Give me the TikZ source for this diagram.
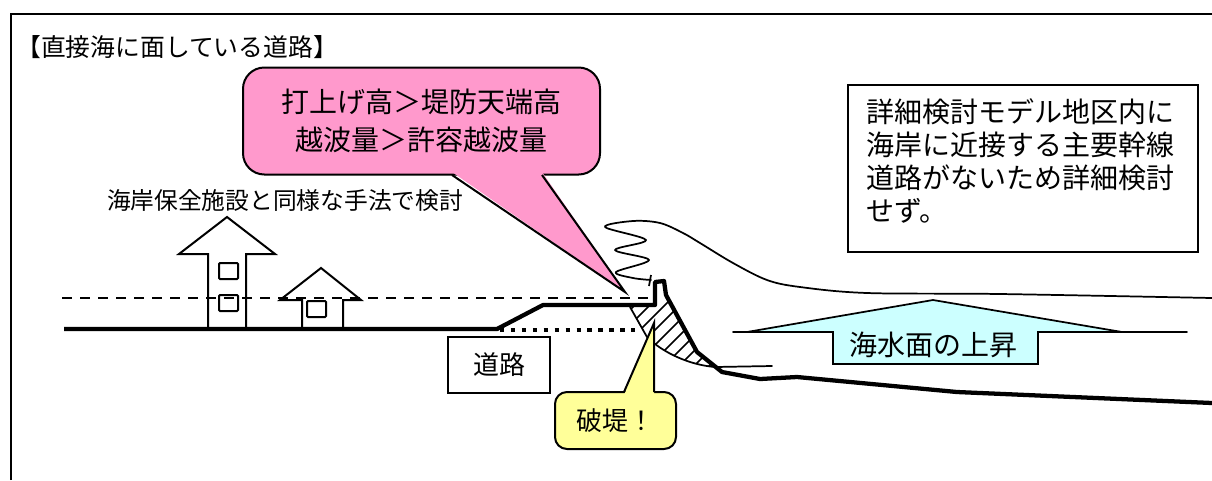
\documentclass[tikz,border=0pt]{standalone}
\usepackage{fontspec}
\setmainfont{Noto Sans CJK JP}
\definecolor{calloutpink}{RGB}{255,153,204}
\definecolor{calloutyellow}{RGB}{255,255,153}
\definecolor{risecyan}{RGB}{204,255,255}
\begin{document}
\begin{tikzpicture}[x=0.75pt,y=-0.75pt,
  frame/.style={line width=1.5pt},
  thinline/.style={line width=1.3pt, line join=round, line cap=round},
  ground/.style={line width=3.2pt, line join=round},
  house/.style={draw, fill=white, line width=1.5pt, line join=miter},
  window/.style={draw, line width=1.5pt, rounded corners=0.8pt},
  levelline/.style={line width=1.5pt, dash pattern=on 7.5pt off 6pt},
  oldroad/.style={line width=3.2pt, dash pattern=on 3.2pt off 5pt},
  hatchline/.style={line width=1.1pt},
  boxed/.style={draw, line width=1.5pt, fill=white, inner sep=0pt},
  pinkbox/.style={draw, line width=1.5pt, fill=calloutpink, rounded corners=16pt, inner sep=0pt},
  yellowbox/.style={draw, line width=1.5pt, fill=calloutyellow, rounded corners=9pt, inner sep=0pt},
  big/.style={font=\fontsize{21pt}{28.5pt}\selectfont},
  mid/.style={font=\fontsize{19.5pt}{24pt}\selectfont},
  small/.style={font=\fontsize{17.8pt}{20pt}\selectfont},
  heading/.style={font=\fontsize{18.6pt}{22pt}\selectfont},
]
\useasboundingbox (0,0) rectangle (1212,480);

% outer frame (runs off the right and bottom edges)
\draw[frame] (11,480) -- (11,14) -- (1212,14);

% title
\node[heading, anchor=west, inner sep=0pt] (title) at (16,47) {【直接海に面している道路】};

% houses behind the embankment
\draw[house] (208,328) -- (208,254) -- (179,254) -- (227,217) -- (275,254) -- (246,254) -- (246,328);
\draw[window] (219,263) rectangle (238,279);
\draw[window] (219,295) rectangle (238,311);
\draw[house] (302,328) -- (302,300) -- (280,300) -- (321,268) -- (361,300) -- (343,300) -- (343,328);
\draw[window] (307,301) rectangle (326,317);

% crest height of the seawall
\draw[levelline] (62,298) -- (652,298);

% hatched seawall body
\begin{scope}
  \clip (630,307) -- (656,305) -- (665,297) -- (697,352) -- (715,367)
        .. controls (690,364) and (663,353) .. (647,337) -- cycle;
  \foreach \k in {0,...,12} \draw[hatchline] (540+\k*15,400) -- ++(130,-130);
\end{scope}
\draw[thinline] (630,307) -- (647,337) .. controls (663,353) and (690,365) .. (715,367) -- (772,366);

% ground, raised road and seabed
\draw[ground] (64,329) -- (497,329) -- (543,305) -- (655,305) -- (655,282) -- (664,281)
  -- (666,295) -- (697,352) -- (722,372) -- (760,379) -- (797,377) -- (957,392) -- (1212,403);
\draw[oldroad] (500,330) -- (640,330);

% wave overtopping the wall
\draw[thinline] plot[smooth, tension=0.55] coordinates {(651,280) (633,278) (616,272) (649,260)
  (615,250) (646,240) (605,227) (633,221) (660,223) (683,233) (700,243) (733,263)
  (767,280) (800,287) (867,293) (1000,294) (1212,298)};
\draw[line width=1.3pt] (651,275) -- (649,286);

% sea level and its rise
\draw[thinline] (733,332) -- (1187,332);
\draw[line width=1.3pt, fill=risecyan, line join=miter] (747,332) -- (933,300) -- (1122,332) -- (1038,332)
  -- (1038,364) -- (833,364) -- (833,332) -- cycle;
\node[big, inner sep=0pt] (rise) at (933,345) {海水面の上昇};

% callout: run-up and overtopping
\coordinate (overtop) at (625,292);
\node[pinkbox, big, align=center, minimum width=267.75pt, minimum height=80.25pt] (warn) at (421.5,121) {打上げ高＞堤防天端高\\越波量＞許容越波量};
\fill[calloutpink] (452,172) -- (overtop) -- (542,172) -- cycle;
\draw[line width=1.5pt, line join=miter] (452,175) -- (overtop) -- (542,175);

% method note
\node[small, inner sep=0pt] (method) at (285,201) {海岸保全施設と同様な手法で検討};

% road label
\node[boxed, mid, minimum width=76.5pt, minimum height=42pt] (road) at (499,365) {道路};

% callout: breach
\coordinate (breachpt) at (654,323);
\node[yellowbox, mid, minimum width=90.75pt, minimum height=42.75pt] (breach) at (615.5,420.5) {破堤！};
\fill[calloutyellow] (624,395) -- (breachpt) -- (654,395) -- cycle;
\draw[line width=1.5pt, line join=miter] (624,392) -- (breachpt) -- (654,392);

% note box
\node[boxed, minimum width=262.5pt, minimum height=125.25pt] (note) at (1023,168.5) {};
\node[big, anchor=north west, align=left, inner sep=0pt, font=\fontsize{21pt}{24.75pt}\selectfont] (notetext) at (866,98)
  {詳細検討モデル地区内に\\海岸に近接する主要幹線\\道路がないため詳細検討\\せず。};
\end{tikzpicture}
\end{document}
